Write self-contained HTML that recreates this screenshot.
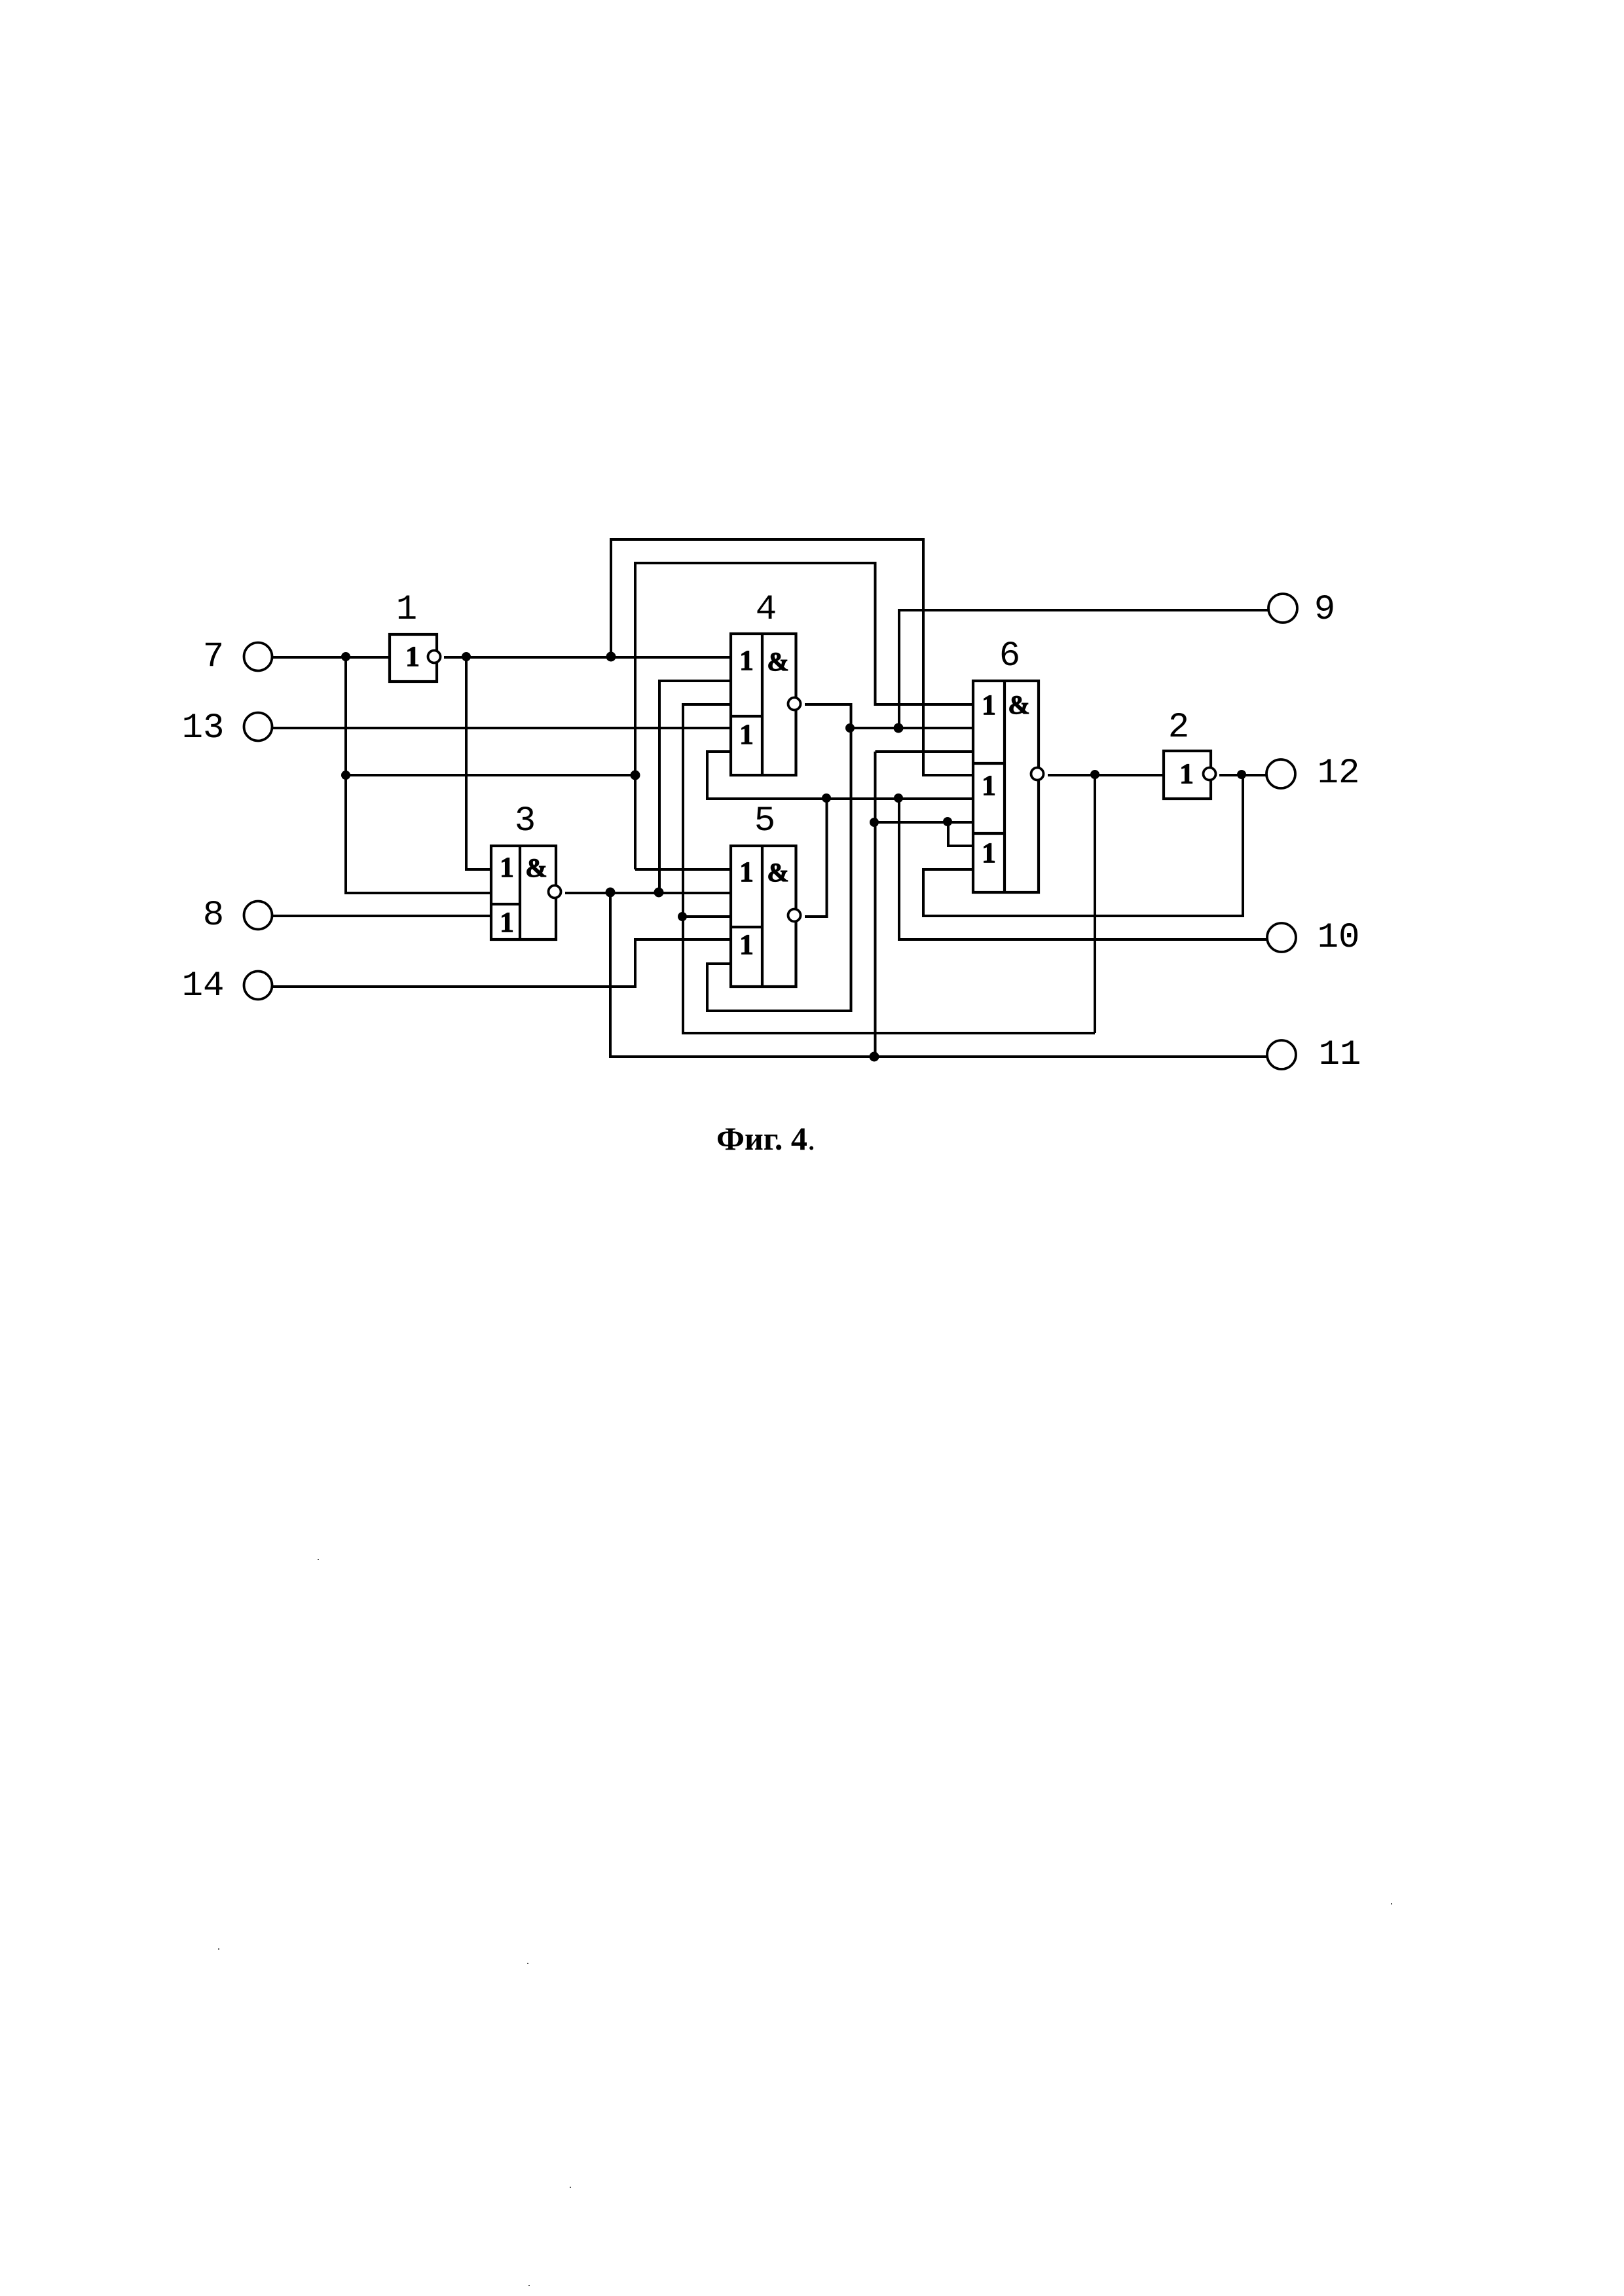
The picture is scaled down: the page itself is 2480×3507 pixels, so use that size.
<!DOCTYPE html>
<html><head><meta charset="utf-8"><style>
html,body{margin:0;padding:0;background:#fff}
svg{display:block}
.w{fill:none;stroke:#000;stroke-width:4;stroke-linejoin:miter}
.g{fill:#fff;stroke:#000;stroke-width:4.2}
.l{font-family:"Liberation Mono",monospace;font-size:54px;text-anchor:middle;fill:#000}
.o{font-family:"Liberation Serif",serif;font-weight:bold;font-size:43px;text-anchor:middle;fill:#000;stroke:#000;stroke-width:1.2}
.a{font-family:"Liberation Serif",serif;font-weight:bold;font-size:40px;text-anchor:middle;fill:#000;stroke:#000;stroke-width:1.2}
.c{font-family:"Liberation Serif",serif;font-weight:bold;font-size:50px;fill:#000}
.t{fill:#fff;stroke:#000;stroke-width:3.8}
</style></head><body>
<svg width="2480" height="3507" viewBox="0 0 2480 3507" xmlns="http://www.w3.org/2000/svg">
<rect width="2480" height="3507" fill="#fff"/>
<!-- wires -->
<g class="w">
<path d="M416 1004H595"/>
<path d="M678 1004H1116"/>
<path d="M416 1112H1116"/>
<path d="M416 1399H750"/>
<path d="M416 1507H970V1435H1116"/>
<path d="M528 1004V1364H750"/>
<path d="M528 1184H970"/>
<path d="M712 1004V1328H750"/>
<path d="M863 1364H1116"/>
<path d="M933 1004V824H1410V1184H1486"/>
<path d="M970 1328V860H1336.500V1076H1486"/>
<path d="M970 1328H1116"/>
<path d="M932 1364V1614H1937"/>
<path d="M1336.500 1148V1614"/>
<path d="M1336.500 1148H1486"/>
<path d="M1116 1040H1007V1364"/>
<path d="M1116 1076H1043V1578H1672"/>
<path d="M1043 1400H1116"/>
<path d="M1116 1148H1080V1220H1486"/>
<path d="M1262.500 1220V1400H1229"/>
<path d="M1229 1076H1299.500V1544H1080V1472H1116"/>
<path d="M1299.500 1112H1486"/>
<path d="M1373 1112V932H1937"/>
<path d="M1373 1220V1435H1935"/>
<path d="M1336.500 1256H1486"/>
<path d="M1448 1256V1292H1486"/>
<path d="M1486 1328H1410V1399H1898V1184"/>
<path d="M1600 1184H1777"/>
<path d="M1672 1184V1578"/>
<path d="M1862 1184H1935"/>
</g>
<!-- gates -->
<g class="g">
<rect x="595" y="969" width="72" height="72"/>
<rect x="1777" y="1147" width="72" height="73"/>
<rect x="750" y="1292" width="99" height="143"/>
<path d="M794 1292V1435M750 1381H794"/>
<rect x="1116" y="968" width="99.500" height="216"/>
<path d="M1164 968V1184M1116 1094H1164"/>
<rect x="1116" y="1292" width="99.500" height="215"/>
<path d="M1164 1292V1507M1116 1416H1164"/>
<rect x="1486" y="1040" width="100" height="323"/>
<path d="M1534 1040V1363M1486 1166H1534M1486 1273H1534"/>
</g>
<!-- inversion circles -->
<g class="t">
<circle cx="663" cy="1003" r="9.500"/>
<circle cx="847" cy="1362" r="9.500"/>
<circle cx="1213" cy="1075" r="9.500"/>
<circle cx="1213" cy="1398" r="9.500"/>
<circle cx="1584" cy="1182" r="9.500"/>
<circle cx="1847" cy="1182" r="9.500"/>
</g>
<!-- terminals -->
<g class="t">
<circle cx="394" cy="1003" r="21.500"/>
<circle cx="394" cy="1110" r="21.500"/>
<circle cx="394" cy="1398" r="21.500"/>
<circle cx="394" cy="1505" r="21.500"/>
<circle cx="1959" cy="929" r="22"/>
<circle cx="1956" cy="1182" r="22"/>
<circle cx="1957" cy="1432" r="22"/>
<circle cx="1957" cy="1611" r="22"/>
</g>
<!-- junctions -->
<g fill="#000">
<circle cx="528" cy="1003" r="7"/>
<circle cx="528" cy="1184" r="7"/>
<circle cx="712" cy="1003" r="7"/>
<circle cx="933" cy="1003" r="7.500"/>
<circle cx="970" cy="1184" r="7.500"/>
<circle cx="932" cy="1363" r="7.500"/>
<circle cx="1006" cy="1363" r="7.500"/>
<circle cx="1042" cy="1400" r="7"/>
<circle cx="1262" cy="1219" r="7"/>
<circle cx="1298" cy="1112" r="7"/>
<circle cx="1372" cy="1112" r="7.500"/>
<circle cx="1372" cy="1219" r="7"/>
<circle cx="1335" cy="1256" r="7"/>
<circle cx="1447" cy="1255" r="7"/>
<circle cx="1335" cy="1614" r="7.500"/>
<circle cx="1672" cy="1183" r="7"/>
<circle cx="1896" cy="1183" r="7"/>
</g>
<!-- element symbols -->
<text class="o" x="630" y="1017">1</text>
<text class="o" x="1812" y="1196">1</text>
<text class="o" x="774" y="1339">1</text>
<text class="o" x="774" y="1423">1</text>
<text class="a" x="819" y="1339">&amp;</text>
<text class="o" x="1140" y="1023">1</text>
<text class="o" x="1140" y="1136">1</text>
<text class="a" x="1188" y="1024">&amp;</text>
<text class="o" x="1140" y="1346">1</text>
<text class="o" x="1140" y="1457">1</text>
<text class="a" x="1188" y="1346">&amp;</text>
<text class="o" x="1510" y="1091">1</text>
<text class="o" x="1510" y="1214">1</text>
<text class="o" x="1510" y="1317">1</text>
<text class="a" x="1556" y="1090">&amp;</text>
<!-- labels -->
<text class="l" x="326" y="1017">7</text>
<text class="l" x="310" y="1126">13</text>
<text class="l" x="326" y="1412">8</text>
<text class="l" x="310" y="1520">14</text>
<text class="l" x="621" y="945">1</text>
<text class="l" x="802" y="1268">3</text>
<text class="l" x="1170" y="945">4</text>
<text class="l" x="1168" y="1268">5</text>
<text class="l" x="1542" y="1016">6</text>
<text class="l" x="1800" y="1125">2</text>
<text class="l" x="2023" y="945">9</text>
<text class="l" x="2044" y="1195">12</text>
<text class="l" x="2044" y="1446">10</text>
<text class="l" x="2046" y="1625">11</text>
<text class="c" x="1094" y="1756">Фиг. 4<tspan font-weight="normal">.</tspan></text>
<!-- specks -->
<g fill="#555">
<rect x="485" y="2381" width="2" height="2"/>
<rect x="333" y="2976" width="2" height="2"/>
<rect x="805" y="2998" width="2" height="2"/>
<rect x="2124" y="2907" width="2" height="2"/>
<rect x="870" y="3340" width="2" height="2"/>
<rect x="807" y="3490" width="2" height="2"/>
</g>
</svg>
</body></html>
